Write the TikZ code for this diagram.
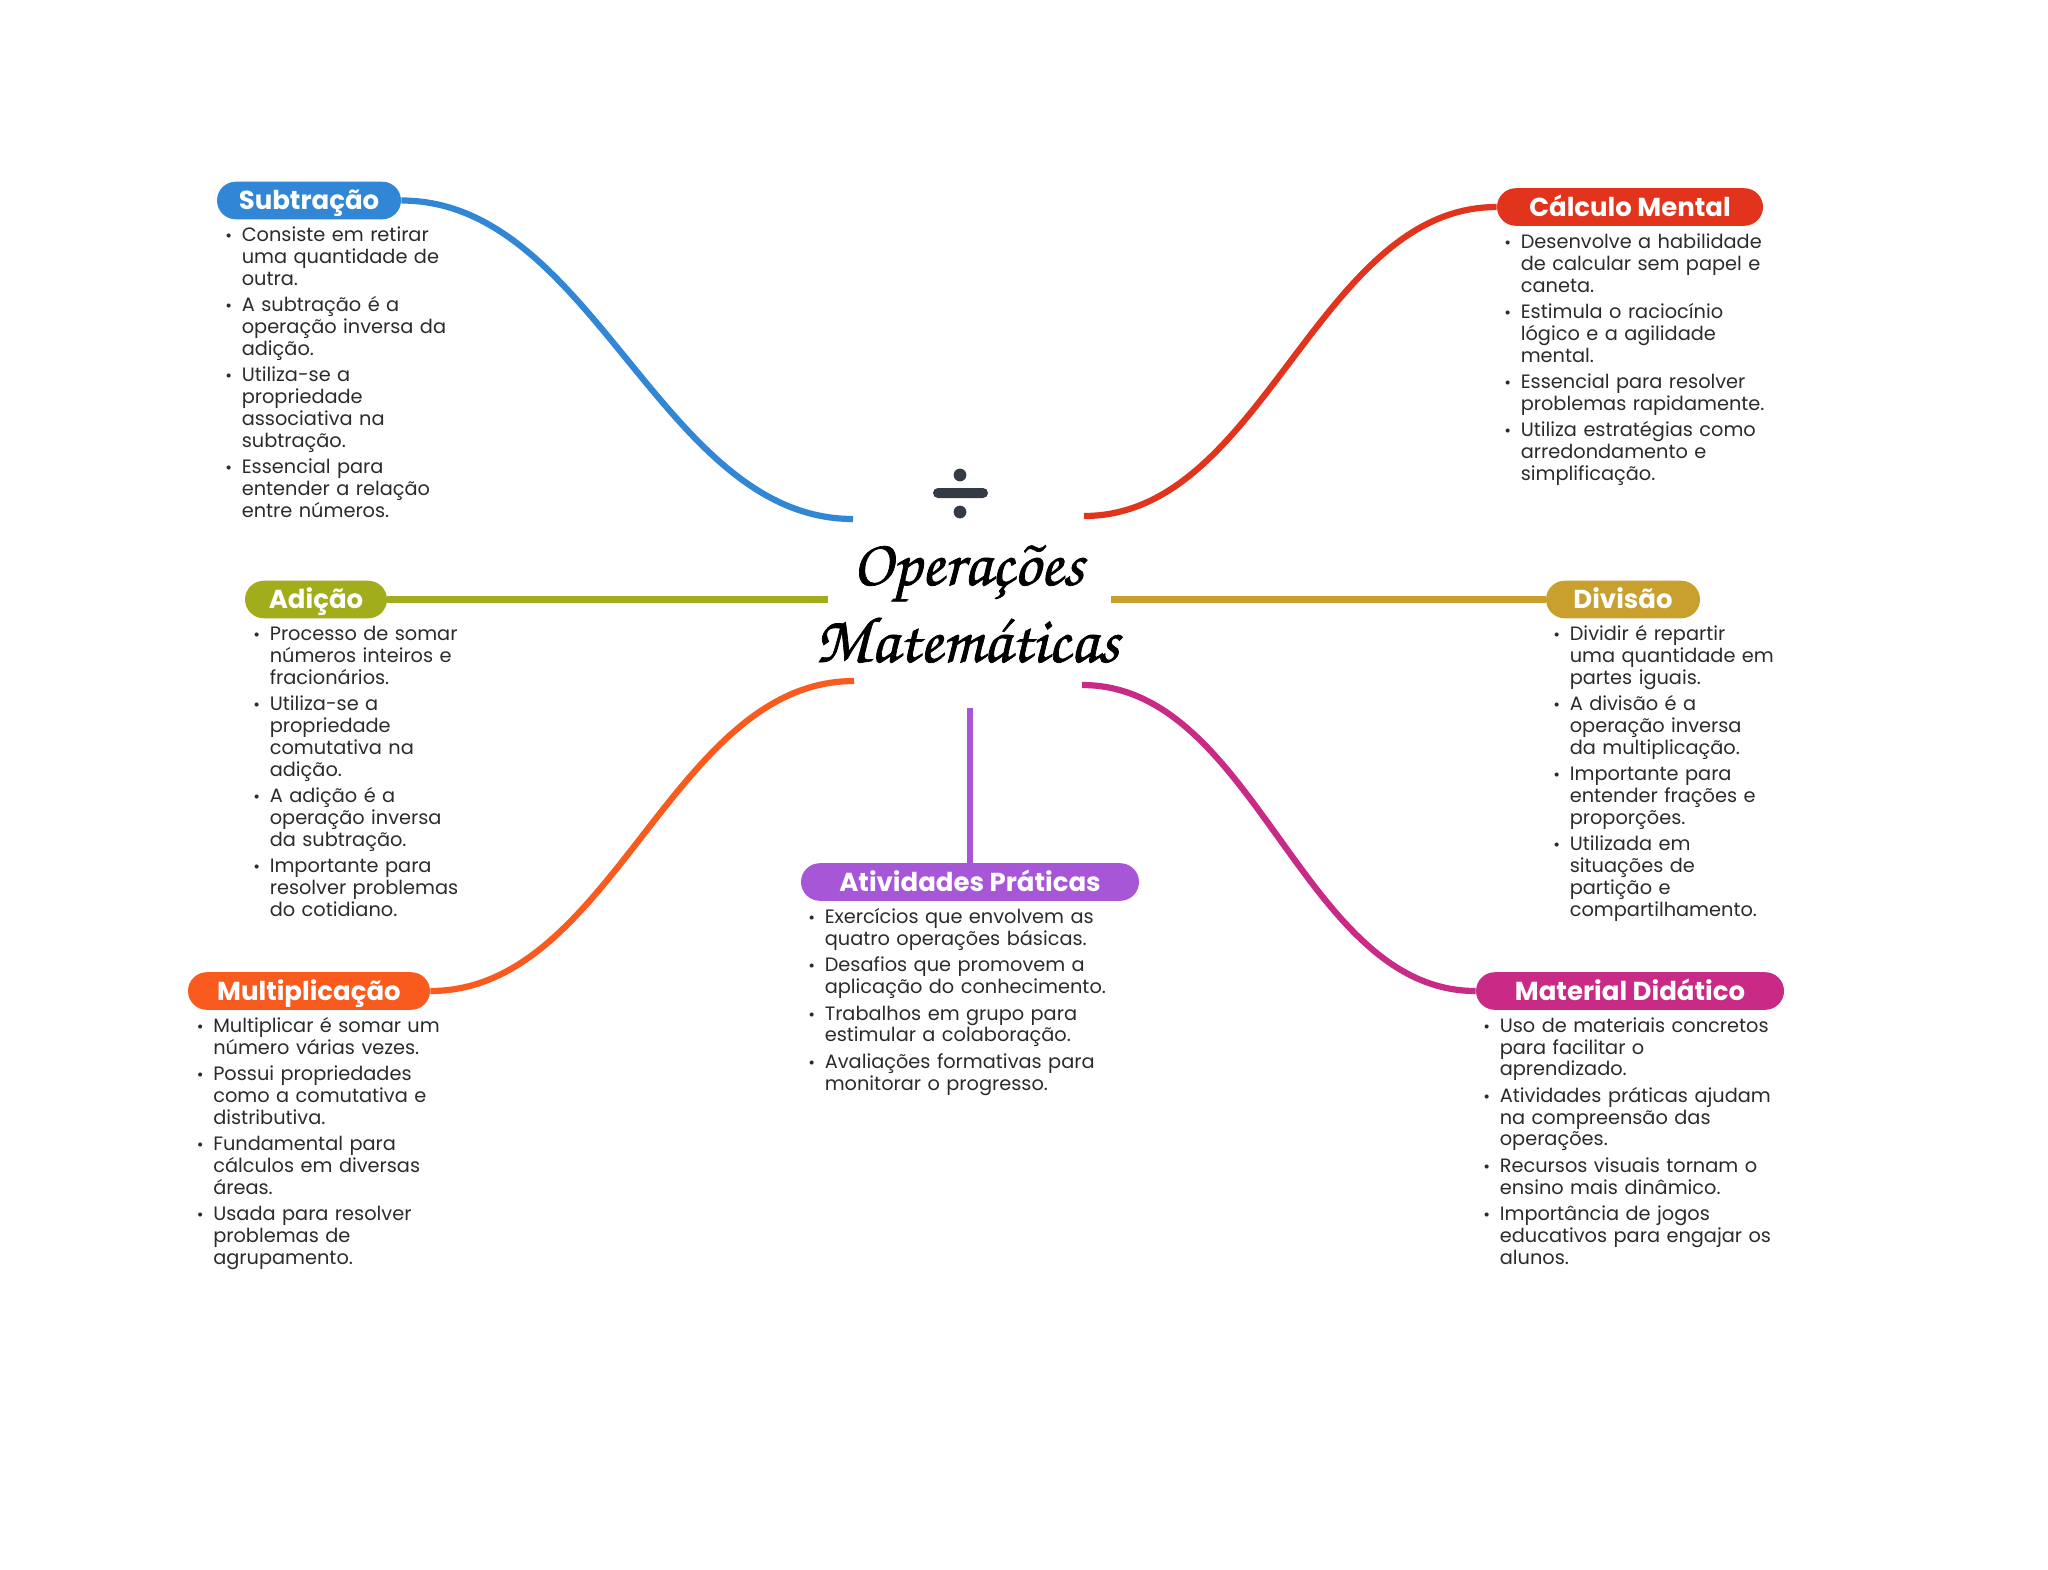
\documentclass[tikz,border=0pt]{standalone}
\usepackage[T1]{fontenc}
\usepackage{fontspec}
\setmainfont{Poppins}
\usepackage{tikz}

\definecolor{subcol}{HTML}{3186D6}
\definecolor{calcol}{HTML}{E2341D}
\definecolor{adicol}{HTML}{A2AD1B}
\definecolor{divcol}{HTML}{C9A02E}
\definecolor{mulcol}{HTML}{F95A1E}
\definecolor{matcol}{HTML}{C92A85}
\definecolor{atvcol}{HTML}{A856D8}
\definecolor{inkcol}{HTML}{2B2B2B}
\definecolor{iconcol}{HTML}{343A46}

\newcommand{\heavy}[1]{\special{pdf:code 2 Tr 0.35 w}#1\special{pdf:code 0 Tr 1 w}}

\tikzstyle{pill} = [rectangle, rounded corners=9.4pt, minimum height=18.8pt, inner xsep=0pt,
                 inner ysep=0pt, text height=9.1pt, text depth=0pt, text=white,
                 font=\fontsize{13}{15}\selectfont\bfseries]
\tikzstyle{notes} = [anchor=north west, inner sep=0pt, text=inkcol, text width=165pt,
                 font=\fontsize{9.67}{10.9}\selectfont]
\tikzstyle{title} = [anchor=base, inner sep=0pt, font=\fontsize{33}{36}\usefont{T1}{pzc}{mb}{it}]
\tikzstyle{link} = [line width=3.1pt]

\newenvironment{bullets}{\begin{list}{\makebox[0pt][c]{\scalebox{.85}{\textbullet}}}{\setlength{\leftmargin}{8.2pt}
  \setlength{\labelwidth}{0pt}\setlength{\labelsep}{6.5pt}\setlength{\itemsep}{2.3pt}
  \setlength{\parsep}{0pt}\setlength{\topsep}{0pt}\setlength{\partopsep}{0pt}}}{\end{list}}

\begin{document}
\begin{tikzpicture}[x=0.5pt,y=-0.5pt]

\useasboundingbox [fill=white] (0,0) rectangle (2048,1569);

% topics
\node [pill, fill=subcol, minimum width=92pt] at (309,200.5) (sub) {Subtração};
\node [pill, fill=calcol, minimum width=133pt] at (1630,207) (cal) {Cálculo Mental};
\node [pill, fill=adicol, minimum width=71pt] at (316,599.5) (adi) {Adição};
\node [pill, fill=divcol, minimum width=77pt] at (1623,599.5) (div) {Divisão};
\node [pill, fill=mulcol, minimum width=121pt] at (309,991) (mul) {Multiplicação};
\node [pill, fill=matcol, minimum width=154pt] at (1630,991) (mat) {Material Didático};
\node [pill, fill=atvcol, minimum width=169pt] at (970,882) (atv) {Atividades Práticas};

% centre
\node [title] at (968,585) (op) {\heavy{Operações}};
\node [title] at (967,662) (ma) {\heavy{Matemáticas}};

\coordinate (hsub) at (853,519);
\coordinate (hcal) at (1084,516);
\coordinate (hadi) at (828,599.5);
\coordinate (hdiv) at (1111,599.5);
\coordinate (hmul) at (854,681);
\coordinate (hmat) at (1082,685);
\coordinate (hatv) at (970,708);

\draw [link, draw=subcol] (sub.east) to[out=0,in=180,looseness=.89] (hsub);
\draw [link, draw=calcol] (cal.west) to[out=180,in=0,looseness=.89] (hcal);
\draw [link, draw=adicol] (adi.east) -- (hadi);
\draw [link, draw=divcol] (div.west) -- (hdiv);
\draw [link, draw=mulcol] (mul.east) to[out=0,in=180,looseness=.89] (hmul);
\draw [link, draw=matcol] (mat.west) to[out=180,in=0,looseness=.89] (hmat);
\draw [link, draw=atvcol] (atv.north) -- (hatv);

% icon
\fill [iconcol] (960,475) circle (3.2pt);
\fill [iconcol] (960,512) circle (3.2pt);
\fill [iconcol, rounded corners=2.5pt] (933,488) rectangle (988,498);

% lists
\node [notes] at (225,219.5) (subnotes) {\begin{bullets}
\item Consiste em retirar\\uma quantidade de\\outra.
\item A subtração é a\\operação inversa da\\adição.
\item Utiliza-se a\\propriedade\\associativa na\\subtração.
\item Essencial para\\entender a relação\\entre números.
\end{bullets}};
\node [notes] at (1504,226.5) (calnotes) {\begin{bullets}
\item Desenvolve a habilidade\\de calcular sem papel e\\caneta.
\item Estimula o raciocínio\\lógico e a agilidade\\mental.
\item Essencial para resolver\\problemas rapidamente.
\item Utiliza estratégias como\\arredondamento e\\simplificação.
\end{bullets}};
\node [notes] at (253,618.5) (adinotes) {\begin{bullets}
\item Processo de somar\\números inteiros e\\fracionários.
\item Utiliza-se a\\propriedade\\comutativa na\\adição.
\item A adição é a\\operação inversa\\da subtração.
\item Importante para\\resolver problemas\\do cotidiano.
\end{bullets}};
\node [notes] at (1553,618.5) (divnotes) {\begin{bullets}
\item Dividir é repartir\\uma quantidade em\\partes iguais.
\item A divisão é a\\operação inversa\\da multiplicação.
\item Importante para\\entender frações e\\proporções.
\item Utilizada em\\situações de\\partição e\\compartilhamento.
\end{bullets}};
\node [notes] at (196.5,1010) (mulnotes) {\begin{bullets}
\item Multiplicar é somar um\\número várias vezes.
\item Possui propriedades\\como a comutativa e\\distributiva.
\item Fundamental para\\cálculos em diversas\\áreas.
\item Usada para resolver\\problemas de\\agrupamento.
\end{bullets}};
\node [notes] at (1483,1010) (matnotes) {\begin{bullets}
\item Uso de materiais concretos\\para facilitar o\\aprendizado.
\item Atividades práticas ajudam\\na compreensão das\\operações.
\item Recursos visuais tornam o\\ensino mais dinâmico.
\item Importância de jogos\\educativos para engajar os\\alunos.
\end{bullets}};
\node [notes] at (808,901.5) (atvnotes) {\begin{bullets}
\item Exercícios que envolvem as\\quatro operações básicas.
\item Desafios que promovem a\\aplicação do conhecimento.
\item Trabalhos em grupo para\\estimular a colaboração.
\item Avaliações formativas para\\monitorar o progresso.
\end{bullets}};

\end{tikzpicture}
\end{document}
